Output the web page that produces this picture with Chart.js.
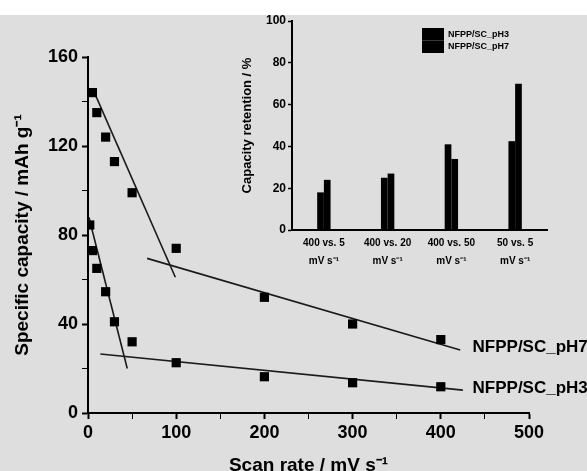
<!DOCTYPE html>
<html>
<head>
<meta charset="utf-8">
<script src="https://cdn.jsdelivr.net/npm/chart.js@4.4.1/dist/chart.umd.min.js"></script>
<style>
  html, body { margin: 0; padding: 0; background: #fff; }
  #wrap { position: relative; width: 587px; height: 471px; overflow: hidden; }
  #paper { position: absolute; left: 0; top: 15px; width: 587px; height: 456px; background: #dedede; }
  #main { position: absolute; left: 0; top: 0; }
  #inset { position: absolute; left: 230px; top: 0; }
</style>
</head>
<body>
<div id="wrap">
  <div id="paper"></div>
  <canvas id="main" width="587" height="471"></canvas>
  <canvas id="inset" width="340" height="275"></canvas>
</div>
<script>
// Specific capacity vs. scan rate
const scanRatePH7 = [5, 10, 20, 30, 50, 100, 200, 300, 400];
const capacityPH7 = [144, 135, 124, 113, 99, 74, 52, 40, 33];
const scanRatePH3 = [2, 5, 10, 20, 30, 50, 100, 200, 300, 400];
const capacityPH3 = [84.5, 73, 65, 54.5, 41, 32, 22.6, 16.3, 13.6, 11.8];

// Linear fits of the two kinetic regimes: [start, end]
const fitLowRatePH7X = [5, 99];    const fitLowRatePH7Y = [146, 61];
const fitHighRatePH7X = [67, 422]; const fitHighRatePH7Y = [69.5, 28.3];
const fitLowRatePH3X = [1, 44.5];  const fitLowRatePH3Y = [88, 20];
const fitHighRatePH3X = [14, 425]; const fitHighRatePH3Y = [26.5, 10.3];

const seriesNames = ["NFPP/SC_pH7", "NFPP/SC_pH3"];

// Inset: capacity retention between scan-rate pairs
const retentionCategories = [
  ["400 vs. 5", "mV s⁻¹"],
  ["400 vs. 20", "mV s⁻¹"],
  ["400 vs. 50", "mV s⁻¹"],
  ["50 vs. 5", "mV s⁻¹"]
];
const retentionPH3 = [18, 25, 41, 42.5];
const retentionPH7 = [24, 27, 34, 70];
const insetNames = ["NFPP/SC_pH3", "NFPP/SC_pH7"];

const FONT = '"Liberation Sans", Arial, Helvetica, sans-serif';
const INK = '#000';

const toXY = (xs, ys) => xs.map((x, i) => ({ x: x, y: ys[i] }));

// Series names written at the right end of each fit line (data coordinates)
const seriesLabelAnchors = [
  { name: seriesNames[0], x: 436, y: 29.7 },
  { name: seriesNames[1], x: 436, y: 11.2 }
];

const seriesLabelPlugin = {
  id: 'seriesLabels',
  afterDatasetsDraw(chart) {
    const { ctx, scales } = chart;
    ctx.save();
    ctx.font = 'bold 17px ' + FONT;
    ctx.fillStyle = INK;
    ctx.textBaseline = 'middle';
    ctx.textAlign = 'left';
    seriesLabelAnchors.forEach(a => {
      ctx.fillText(a.name, scales.x.getPixelForValue(a.x), scales.y.getPixelForValue(a.y));
    });
    ctx.restore();
  }
};

const pointStyle = {
  showLine: false, pointStyle: 'rect', pointRadius: 6.5,
  pointBackgroundColor: INK, pointBorderColor: INK, pointBorderWidth: 0, order: 0
};
const fitStyle = {
  showLine: true, pointRadius: 0, borderColor: '#1a1a1a', borderWidth: 1.6, order: 1
};

new Chart(document.getElementById('main'), {
  type: 'scatter',
  data: {
    datasets: [
      Object.assign({ label: seriesNames[0], data: toXY(scanRatePH7, capacityPH7) }, pointStyle),
      Object.assign({ label: seriesNames[1], data: toXY(scanRatePH3, capacityPH3) }, pointStyle),
      Object.assign({ label: 'fit1', data: toXY(fitLowRatePH7X, fitLowRatePH7Y) }, fitStyle),
      Object.assign({ label: 'fit2', data: toXY(fitHighRatePH7X, fitHighRatePH7Y) }, fitStyle),
      Object.assign({ label: 'fit3', data: toXY(fitLowRatePH3X, fitLowRatePH3Y) }, fitStyle),
      Object.assign({ label: 'fit4', data: toXY(fitHighRatePH3X, fitHighRatePH3Y) }, fitStyle)
    ]
  },
  options: {
    responsive: false,
    animation: false,
    layout: { padding: { top: 57, right: 58, left: 0, bottom: 0 } },
    plugins: { legend: { display: false }, tooltip: { enabled: false } },
    scales: {
      x: {
        type: 'linear', min: 0, max: 500,
        ticks: {
          stepSize: 50, color: INK, padding: 3, maxRotation: 0,
          font: { family: FONT, size: 18, weight: 'bold' },
          callback: v => (v % 100 === 0 ? String(v) : '')
        },
        grid: {
          drawOnChartArea: false, tickLength: 6, tickColor: INK,
          tickWidth: c => (c.tick && c.tick.value % 100 === 0 ? 2 : 1)
        },
        border: { display: true, color: INK, width: 2 },
        title: {
          display: true, text: 'Scan rate / mV s⁻¹', color: INK,
          font: { family: FONT, size: 19, weight: 'bold', lineHeight: 1 },
          padding: { top: 0, bottom: -4 }
        },
        afterFit: s => { s.height = 58; }
      },
      y: {
        type: 'linear', min: 0, max: 160,
        ticks: {
          stepSize: 20, color: INK, padding: 4,
          font: { family: FONT, size: 18, weight: 'bold' },
          callback: v => (v % 40 === 0 ? String(v) : '')
        },
        grid: {
          drawOnChartArea: false, tickLength: 6, tickColor: INK,
          tickWidth: c => (c.tick && c.tick.value % 40 === 0 ? 2 : 1)
        },
        border: { display: true, color: INK, width: 2 },
        title: {
          display: true, text: 'Specific capacity / mAh g⁻¹', color: INK,
          font: { family: FONT, size: 19, weight: 'bold', lineHeight: 1 },
          padding: { top: 13, bottom: 0 }
        },
        afterFit: s => { s.width = 88; }
      }
    }
  },
  plugins: [seriesLabelPlugin]
});

// Stacked legend boxes with names, drawn in the top right of the inset
const insetLegendPlugin = {
  id: 'insetLegend',
  afterDraw(chart) {
    const { ctx } = chart;
    const x0 = 192, y0 = 28, w = 22, h = 12.5;
    ctx.save();
    ctx.font = 'bold 9px ' + FONT;
    ctx.textBaseline = 'middle';
    chart.data.datasets.forEach((ds, i) => {
      ctx.fillStyle = ds.backgroundColor;
      ctx.fillRect(x0, y0 + i * h, w, h);
      ctx.fillStyle = INK;
      ctx.fillText(ds.label, x0 + w + 4, y0 + i * h + h / 2);
    });
    ctx.restore();
  }
};

new Chart(document.getElementById('inset'), {
  type: 'bar',
  data: {
    labels: retentionCategories,
    datasets: [
      { label: insetNames[0], data: retentionPH3, backgroundColor: INK },
      { label: insetNames[1], data: retentionPH7, backgroundColor: INK }
    ]
  },
  options: {
    responsive: false,
    animation: false,
    layout: { padding: { top: 21, right: 23, left: 0, bottom: 0 } },
    plugins: { legend: { display: false }, tooltip: { enabled: false } },
    datasets: { bar: { categoryPercentage: 0.21, barPercentage: 1 } },
    scales: {
      x: {
        grid: { display: false, drawTicks: false },
        border: { display: true, color: INK, width: 2 },
        ticks: {
          color: INK, padding: 4, maxRotation: 0, autoSkip: false,
          font: { family: FONT, size: 10, weight: 'bold', lineHeight: 1.8 }
        },
        afterFit: s => { s.height = 45; }
      },
      y: {
        min: 0, max: 100,
        ticks: {
          stepSize: 20, color: INK, padding: 2,
          font: { family: FONT, size: 12, weight: 'bold' }
        },
        grid: { drawOnChartArea: false, tickLength: 4, tickColor: INK, tickWidth: 1.5 },
        border: { display: true, color: INK, width: 2 },
        title: {
          display: true, text: 'Capacity retention / %', color: INK,
          font: { family: FONT, size: 13, weight: 'bold', lineHeight: 1 },
          padding: { top: 11, bottom: 0 }
        },
        afterFit: s => { s.width = 62; }
      }
    }
  },
  plugins: [insetLegendPlugin]
});
</script>
</body>
</html>
